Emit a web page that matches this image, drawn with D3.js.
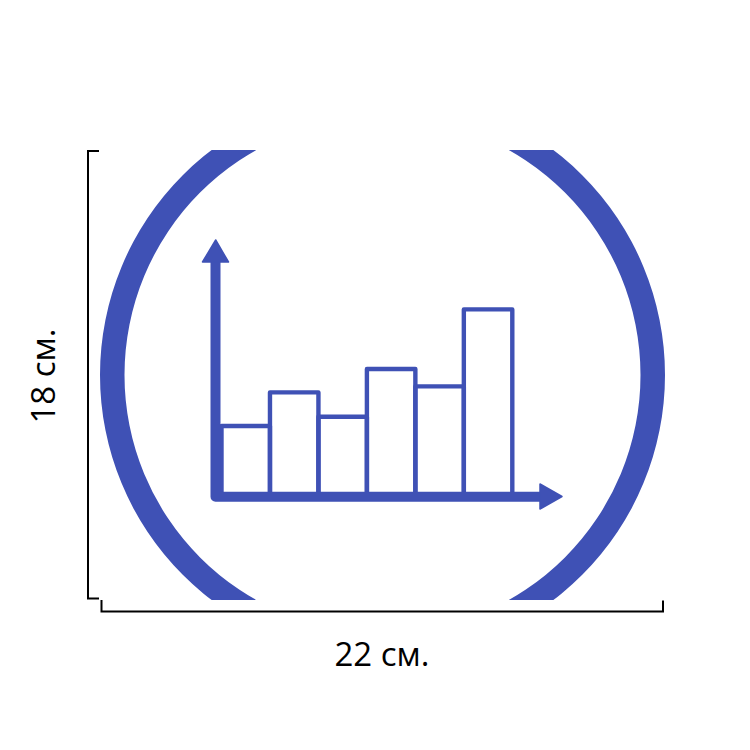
<!DOCTYPE html>
<html>
<head>
<meta charset="utf-8">
<style>html,body{margin:0;padding:0;background:#fff}svg{display:block}</style>
<script src="https://cdn.jsdelivr.net/npm/d3@7/dist/d3.min.js"></script>
</head>
<body>
<svg id="c" width="750" height="750"></svg>
<script>
const categories = ["a","b","c","d","e","f"];
const barValues = [33, 49.8, 37.6, 61.5, 52.8, 91.3];
const widthLabel = "22 см.";
const heightLabel = "18 см.";
const blue = "#3f51b5";
const ink = "#000";

const svg = d3.select("#c");
const x = d3.scaleBand().domain(categories).range([221.5, 512.3]).padding(0);
const y = d3.scaleLinear().domain([0, 100]).range([492, 292]);

// Ring, cropped at the top and bottom
const defs = svg.append("defs");
defs.append("clipPath").attr("id","crop").append("rect")
  .attr("x",90).attr("y",150).attr("width",590).attr("height",450);
svg.append("g").attr("clip-path","url(#crop)")
  .append("path")
  .attr("transform","translate(382.5,375)")
  .attr("fill",blue)
  .attr("d", d3.arc()({innerRadius:258, outerRadius:282.5, startAngle:0, endAngle:2*Math.PI}));

// Bars
svg.append("g").selectAll("rect").data(barValues).join("rect")
  .attr("x",(d,i)=>x(categories[i]))
  .attr("y",d=>y(d))
  .attr("width",x.bandwidth())
  .attr("height",d=>y(0)-y(d))
  .attr("fill","#fff");

svg.append("g").selectAll("path").data(barValues).join("path")
  .attr("d",(d,i)=>{
    const l=x(categories[i]), r=l+x.bandwidth();
    return `M${l},${y(0)}V${y(d)}H${r}V${y(0)}`;
  })
  .attr("fill","none").attr("stroke",blue).attr("stroke-width",4.4).attr("stroke-linejoin","round");

// Axes with arrowheads
svg.append("path").attr("fill","none").attr("stroke",blue).attr("stroke-width",10)
  .attr("stroke-linejoin","round")
  .attr("d",`M215.5,255V496.8H545`);
svg.append("path").attr("fill",blue).attr("stroke",blue).attr("stroke-width",1.5).attr("stroke-linejoin","round")
  .attr("d","M215.7,240L228.5,262H202.5Z");
svg.append("path").attr("fill",blue).attr("stroke",blue).attr("stroke-width",1.5).attr("stroke-linejoin","round")
  .attr("d","M562,496.5L540,484V509Z");

// Dimension brackets
svg.append("path").attr("fill","none").attr("stroke",ink).attr("stroke-width",2)
  .attr("d","M99,151H88V598.5H99");
svg.append("path").attr("fill","none").attr("stroke",ink).attr("stroke-width",2)
  .attr("d","M101.5,600V611.5H663V600.5");

// Labels
const font = "'Open Sans','Noto Sans',sans-serif";
svg.append("text").attr("x",382).attr("y",666).attr("text-anchor","middle")
  .attr("font-family",font).attr("font-size",33).attr("fill",ink).text(widthLabel);
svg.append("text").attr("transform","translate(55,376) rotate(-90)").attr("text-anchor","middle")
  .attr("font-family",font).attr("font-size",33).attr("fill",ink).text(heightLabel);
</script>
</body>
</html>
